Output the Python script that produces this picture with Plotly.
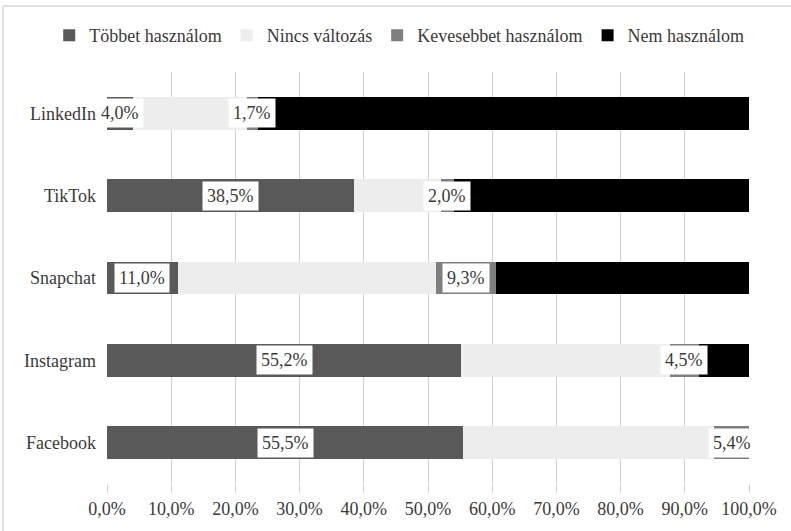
import plotly.graph_objects as go

categories = ["Facebook", "Instagram", "Snapchat", "TikTok", "LinkedIn"]
tobbet = [55.5, 55.2, 11.0, 38.5, 4.0]
nincs = [39.1, 32.5, 40.3, 13.5, 17.8]
kevesebbet = [5.4, 4.5, 9.3, 2.0, 1.7]
nem = [0.0, 7.8, 39.4, 46.0, 76.5]

series_names = ["Többet használom", "Nincs változás", "Kevesebbet használom", "Nem használom"]
series_values = [tobbet, nincs, kevesebbet, nem]
colors = ["#595959", "#ededed", "#7f7f7f", "#000000"]

FONT = "'Liberation Serif', 'Times New Roman', Times, serif"
TXT = "#3a3a3a"

fig = go.Figure()
for name, vals, col in zip(series_names, series_values, colors):
    fig.add_trace(go.Bar(
        y=categories, x=vals, name=name, orientation="h",
        marker=dict(color=col, line=dict(width=0)),
        width=0.4, hoverinfo="x+y",
    ))

def fmt(v):
    return f"{v:.1f}".replace(".", ",") + "%"

annotations = []
for i, cat in enumerate(categories):
    annotations.append(dict(
        x=tobbet[i] / 2, y=cat, xref="x", yref="y", text=fmt(tobbet[i]),
        showarrow=False, bgcolor="white", borderpad=4,
        font=dict(family=FONT, size=18, color=TXT),
    ))
    annotations.append(dict(
        x=tobbet[i] + nincs[i] + kevesebbet[i] / 2, y=cat, xref="x", yref="y",
        text=fmt(kevesebbet[i]),
        showarrow=False, bgcolor="white", borderpad=4,
        font=dict(family=FONT, size=18, color=TXT),
    ))

fig.update_layout(
    barmode="stack",
    width=791, height=531,
    margin=dict(l=107, r=42, t=72, b=41),
    paper_bgcolor="white", plot_bgcolor="white",
    separators=", ",
    font=dict(family=FONT, size=18, color=TXT),
    legend=dict(
        orientation="h", x=-0.09, xanchor="left", y=1.0885, yanchor="middle",
        font=dict(family=FONT, size=18, color=TXT),
        traceorder="normal", itemwidth=30,
    ),
    annotations=annotations,
    shapes=[
        dict(type="line", xref="paper", yref="paper",
             x0=-0.162, x1=-0.162, y0=-0.3, y1=1.160,
             line=dict(color="#d9d9d9", width=1.5), layer="below"),
        dict(type="line", xref="paper", yref="paper",
             x0=-0.162, x1=1.3, y0=1.160, y1=1.160,
             line=dict(color="#d9d9d9", width=1.5), layer="below"),
    ],
)
fig.update_xaxes(
    range=[0, 100], dtick=10, tick0=0, tickformat=".1f", ticksuffix="%",
    showgrid=True, gridcolor="#d0d0d0", gridwidth=1,
    ticks="outside", ticklen=8, tickcolor="#d0d0d0",
    zeroline=False, showline=False,
    tickfont=dict(family=FONT, size=18, color=TXT),
)
fig.update_yaxes(
    showgrid=False, showline=False, ticks="", ticklabelstandoff=10,
    tickfont=dict(family=FONT, size=18, color=TXT),
)

fig.write_html("out.html")
